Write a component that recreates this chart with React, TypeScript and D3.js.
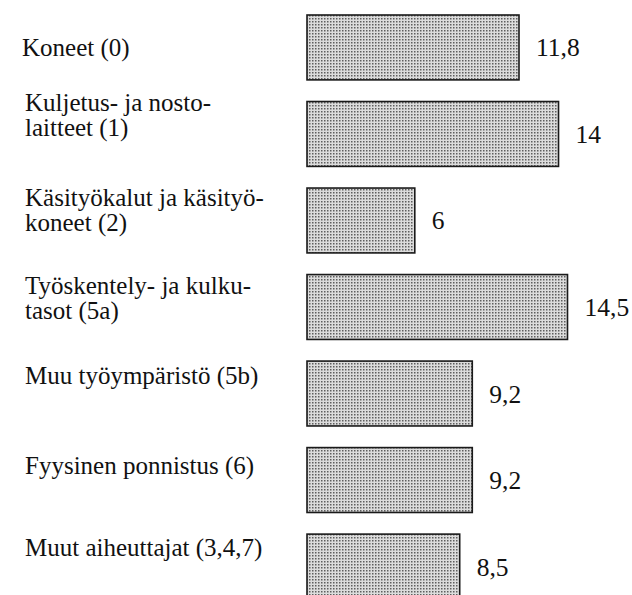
import React from "react";
import * as d3 from "d3";

const categories: string[][] = [
  ["Koneet (0)"],
  ["Kuljetus- ja nosto-", "laitteet (1)"],
  ["Käsityökalut ja käsityö-", "koneet (2)"],
  ["Työskentely- ja kulku-", "tasot (5a)"],
  ["Muu työympäristö (5b)"],
  ["Fyysinen ponnistus (6)"],
  ["Muut aiheuttajat (3,4,7)"],
];
const values: number[] = [11.8, 14, 6, 14.5, 9.2, 9.2, 8.5];
const valueLabels: string[] = ["11,8", "14", "6", "14,5", "9,2", "9,2", "8,5"];

// layout tweaks (label vertical shifts relative to bar centre, px)
const LABEL_SHIFT = [9, -23, -14, -13, -10, -6, -11];
const LABEL_X = [22, 25, 25, 25, 25, 25, 25];
const LINE_GAP = 25;

const W = 632;
const H = 595;
const FONT =
  "'Liberation Serif', 'DejaVu Serif', 'Noto Serif', Tinos, 'Times New Roman', Times, serif";

export default function App() {
  const ids = categories.map((_, i) => String(i));
  const y = d3.scaleBand<string>().domain(ids).range([15, 599]).paddingInner(0.25).paddingOuter(0);
  const x = d3.scaleLinear().domain([0, 14.5]).range([307, 567.5]);

  return (
    <svg width={W} height={H} style={{ position: "absolute", left: 0, top: 0, background: "#fff" }}>
      <defs>
        <pattern id="stip" width={3} height={3} patternUnits="userSpaceOnUse">
          <rect width={3} height={3} fill="#dcdcdc" />
          <rect x={0} y={0} width={1.5} height={1.5} fill="#5e5e5e" />
        </pattern>
      </defs>
      {values.map((v, i) => {
        const yy = y(ids[i])!;
        const bw = y.bandwidth();
        const cy = yy + bw / 2;
        return (
          <g key={i}>
            <rect
              x={x(0)}
              y={yy}
              width={x(v) - x(0)}
              height={bw}
              fill="url(#stip)"
              stroke="#1a1a1a"
              strokeWidth={1.6}
            />
            <text x={x(v) + 17} y={cy + 9} style={{ fontFamily: FONT, fontSize: 25.5 }} fill="#111">
              {valueLabels[i]}
            </text>
            <text style={{ fontFamily: FONT, fontSize: 25 }} fill="#111">
              {categories[i].map((line, j) => (
                <tspan key={j} x={LABEL_X[i]} y={cy + LABEL_SHIFT[i] + j * LINE_GAP}>
                  {line}
                </tspan>
              ))}
            </text>
          </g>
        );
      })}
    </svg>
  );
}
